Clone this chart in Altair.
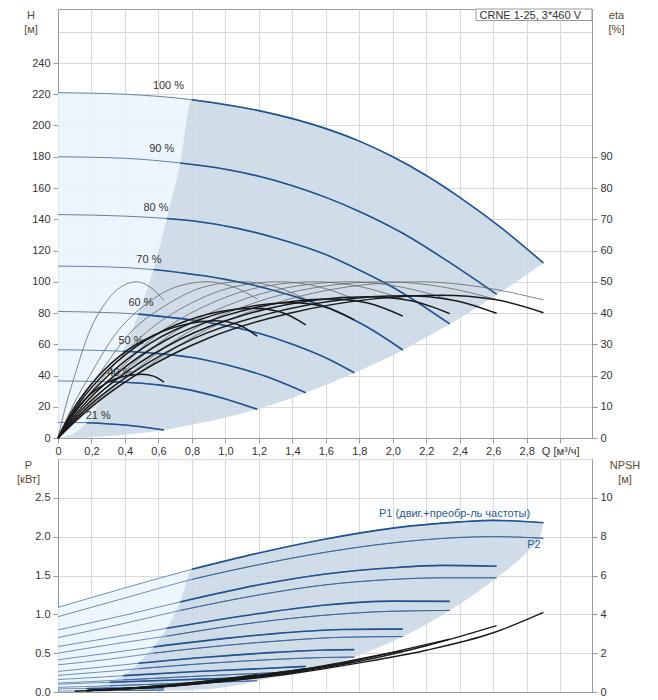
import altair as alt
import pandas as pd

# ---------------- data ----------------
SPEEDS = ["100 %", "90 %", "80 %", "70 %", "60 %", "50 %", "40 %", "21 %"]
# flow where each curve enters the recommended (dark) range
SPLIT_Q = [0.8, 0.73, 0.65, 0.57, 0.48, 0.39, 0.31, 0.17]

H_Q = [
    [0, 0.4, 0.8, 1.2, 1.6, 1.8, 2.0, 2.2, 2.4, 2.66, 2.9],
    [0, 0.4, 0.73, 1.0, 1.2, 1.4, 1.6, 1.8, 2.06, 2.33, 2.62],
    [0, 0.4, 0.65, 0.8, 1.08, 1.3, 1.62, 1.8, 2.0, 2.34],
    [0, 0.3, 0.57, 1.0, 1.2, 1.4, 1.62, 1.84, 2.06],
    [0, 0.48, 0.8, 1.0, 1.2, 1.4, 1.62, 1.77],
    [0, 0.39, 0.6, 0.8, 1.0, 1.24, 1.48],
    [0, 0.31, 0.6, 0.8, 1.0, 1.19],
    [0, 0.17, 0.4, 0.633],
]
H_V = [
    [221, 220, 216.5, 209.5, 198, 190, 180, 168, 154, 133.5, 112],
    [180, 179, 176, 172, 167.5, 161.5, 154, 145, 131, 113, 92],
    [143, 142, 140.5, 139, 134, 128, 116.5, 107.5, 96.5, 73],
    [110, 109.5, 107.8, 101.5, 97, 91, 83, 71.5, 56.3],
    [81, 79.3, 75.5, 72, 67, 60, 50.3, 41.8],
    [56.5, 55.5, 54, 51.5, 47, 39.5, 29],
    [36.5, 36, 34, 30.5, 25, 18.4],
    [10, 9.8, 8.3, 5.1],
]
LBL_Q = [0.66, 0.62, 0.585, 0.543, 0.496, 0.436, 0.37, 0.24]
LBL_H = [225, 185, 147, 114, 86.5, 61.8, 41.6, 14.1]

# pump efficiency (thin grey)
ETA_P_Q = [
    [0, 0.23, 0.46, 0.83, 1.29, 1.75, 2.16, 2.53, 2.90],
    [0, 0.21, 0.42, 0.75, 1.16, 1.58, 1.95, 2.29, 2.62],
    [0, 0.19, 0.37, 0.67, 1.04, 1.41, 1.75, 2.04, 2.34],
    [0, 0.16, 0.33, 0.59, 0.91, 1.24, 1.54, 1.80, 2.06],
    [0, 0.14, 0.28, 0.51, 0.79, 1.07, 1.32, 1.55, 1.77],
    [0, 0.12, 0.24, 0.42, 0.66, 0.89, 1.10, 1.29, 1.48],
    [0, 0.095, 0.19, 0.34, 0.53, 0.72, 0.89, 1.04, 1.19],
    [0, 0.05, 0.10, 0.18, 0.28, 0.38, 0.47, 0.55, 0.633],
]
ETA_P_V = [
    [0, 11, 20, 33, 43, 48.5, 50, 48.3, 44.2],
    [0, 11, 20, 33, 43, 48.5, 50, 48.4, 44.3],
    [0, 11, 20, 33, 43, 48.5, 50, 48.4, 44.3],
    [0, 11, 20, 33, 43, 48.6, 50, 48.5, 44.5],
    [0, 11, 20, 33, 43, 48.6, 50, 48.5, 44.5],
    [0, 11, 20, 33, 43, 48.6, 50, 48.5, 44.5],
    [0, 11, 20, 33, 43, 48.6, 50, 48.5, 44.5],
    [0, 11, 20, 33, 43, 48.5, 50, 48.3, 44.0],
]
# total efficiency (thick black)
ETA_T_Q = [
    [0, 0.20, 0.49, 0.90, 1.39, 1.90, 2.29, 2.61, 2.90],
    [0, 0.18, 0.45, 0.81, 1.26, 1.72, 2.07, 2.36, 2.62],
    [0, 0.16, 0.40, 0.73, 1.12, 1.53, 1.85, 2.11, 2.34],
    [0, 0.14, 0.35, 0.64, 0.99, 1.35, 1.63, 1.85, 2.06],
    [0, 0.12, 0.30, 0.55, 0.85, 1.16, 1.40, 1.59, 1.77],
    [0, 0.10, 0.25, 0.46, 0.71, 0.97, 1.17, 1.33, 1.48],
    [0, 0.08, 0.20, 0.37, 0.57, 0.78, 0.94, 1.07, 1.19],
    [0, 0.044, 0.11, 0.20, 0.30, 0.41, 0.50, 0.57, 0.633],
]
ETA_T_V = [
    [0, 10, 21, 32, 40, 44.6, 45.7, 44.3, 40.1],
    [0, 10, 21, 31.8, 39.8, 44.4, 45.5, 44.1, 39.9],
    [0, 10, 20.8, 31.6, 39.5, 44.1, 45.2, 43.9, 39.8],
    [0, 9.8, 20.5, 31.2, 39, 43.4, 44.5, 43.2, 39.0],
    [0, 9.5, 20, 30.3, 37.9, 42.2, 43.3, 42, 37.8],
    [0, 9.1, 19.1, 29, 36.3, 40.5, 41.5, 40.3, 36.2],
    [0, 8.3, 17.3, 26.3, 32.8, 36.6, 37.5, 36.4, 32.6],
    [0, 4.5, 9.4, 14.3, 17.9, 19.9, 20.4, 19.8, 17.9],
]

# shaded ranges, H chart
DARK_Q = [0, 0.1, 0.17, 0.31, 0.39, 0.48, 0.57, 0.65, 0.73, 0.8, 1.2, 1.6, 1.8, 2.0, 2.2, 2.4, 2.66, 2.9]
DARK_TOP = [0, 3.4, 9.8, 36, 55.5, 79.3, 107.8, 140.5, 176, 216.5, 209.5, 198, 190, 180, 168, 154, 133.5, 112]
DARK_BOT = [0, 0.1, 0.4, 1.3, 2.0, 3.0, 4.2, 5.5, 7.1, 8.5, 18.8, 34, 43, 53, 64.5, 76.6, 94.5, 112]
LIGHT_Q = [0, 0.1, 0.17, 0.31, 0.39, 0.48, 0.57, 0.65, 0.73, 0.8]
LIGHT_TOP = [221, 221, 221, 220.5, 220, 219.5, 218.7, 218, 217.2, 216.5]
LIGHT_BOT = [0, 3.4, 9.8, 36, 55.5, 79.3, 107.8, 140.5, 176, 216.5]

# power curves
P1_Q = [
    [0, 0.4, 0.8, 1.2, 1.6, 2.0, 2.4, 2.6, 2.9],
    [0, 0.4, 0.73, 1.2, 1.6, 2.0, 2.3, 2.62],
    [0, 0.4, 0.65, 1.2, 1.6, 2.0, 2.34],
    [0, 0.3, 0.57, 1.0, 1.4, 1.7, 2.06],
    [0, 0.3, 0.48, 0.9, 1.3, 1.6, 1.77],
    [0, 0.2, 0.39, 0.8, 1.2, 1.48],
    [0, 0.31, 0.7, 1.0, 1.19],
    [0, 0.17, 0.4, 0.633],
]
P1_V = [
    [1.09, 1.34, 1.58, 1.79, 1.97, 2.11, 2.19, 2.21, 2.18],
    [0.80, 0.99, 1.16, 1.38, 1.52, 1.60, 1.63, 1.62],
    [0.586, 0.73, 0.82, 1.01, 1.12, 1.17, 1.167],
    [0.415, 0.50, 0.58, 0.69, 0.77, 0.805, 0.81],
    [0.265, 0.33, 0.37, 0.45, 0.51, 0.54, 0.545],
    [0.16, 0.185, 0.21, 0.26, 0.30, 0.33],
    [0.10, 0.125, 0.155, 0.175, 0.19],
    [0.04, 0.045, 0.05, 0.055],
]
P2_Q = P1_Q
P2_V = [
    [0.97, 1.21, 1.45, 1.64, 1.80, 1.92, 1.99, 2.0, 1.98],
    [0.70, 0.885, 1.05, 1.25, 1.38, 1.45, 1.47, 1.47],
    [0.50, 0.64, 0.72, 0.90, 0.99, 1.04, 1.05],
    [0.35, 0.42, 0.50, 0.60, 0.67, 0.705, 0.714],
    [0.214, 0.265, 0.30, 0.37, 0.42, 0.445, 0.45],
    [0.115, 0.135, 0.155, 0.20, 0.24, 0.265],
    [0.06, 0.08, 0.11, 0.13, 0.145],
    [0.012, 0.015, 0.02, 0.025],
]
NPSH_Q = [
    [0.17, 0.6, 1.0, 1.4, 1.8, 2.2, 2.6, 2.9],
    [0.17, 0.6, 1.0, 1.4, 1.8, 2.2, 2.62],
    [0.17, 0.6, 1.0, 1.4, 1.8, 2.1, 2.34],
    [0.17, 0.6, 1.0, 1.4, 1.8, 2.06],
    [0.17, 0.6, 1.0, 1.4, 1.77],
    [0.17, 0.6, 1.0, 1.48],
    [0.17, 0.6, 1.0, 1.19],
    [0.1, 0.4, 0.633],
]
NPSH_V = [
    [0.07, 0.25, 0.55, 0.95, 1.5, 2.15, 3.05, 4.1],
    [0.07, 0.26, 0.57, 1.0, 1.58, 2.38, 3.42],
    [0.07, 0.27, 0.59, 1.04, 1.65, 2.25, 2.72],
    [0.07, 0.28, 0.61, 1.07, 1.7, 2.14],
    [0.07, 0.29, 0.63, 1.1, 1.54],
    [0.07, 0.3, 0.66, 1.2],
    [0.07, 0.31, 0.68, 0.9],
    [0.04, 0.18, 0.35],
]
PD_Q = [0.17, 0.31, 0.39, 0.48, 0.57, 0.65, 0.73, 0.8, 1.0, 1.2, 1.48, 1.77, 2.06, 2.34, 2.62, 2.8, 2.88, 2.9]
PD_TOP = [0.045, 0.125, 0.21, 0.37, 0.58, 0.82, 1.16, 1.58, 1.69, 1.79, 1.915, 2.03, 2.125, 2.18, 2.21, 2.20, 2.185, 2.18]
PD_BOT = [0.012, 0.014, 0.016, 0.018, 0.02, 0.022, 0.024, 0.027, 0.06, 0.15, 0.265, 0.45, 0.714, 1.05, 1.47, 1.80, 2.0, 2.18]
PL_Q = [0, 0.17, 0.31, 0.39, 0.48, 0.57, 0.65, 0.73, 0.8]
PL_TOP = [1.09, 1.195, 1.28, 1.33, 1.385, 1.44, 1.49, 1.535, 1.58]
PL_BOT = [0.04, 0.045, 0.125, 0.21, 0.37, 0.58, 0.82, 1.16, 1.58]

P_LABELS = ["P1 (двиг.+преобр-ль частоты)", "P2"]
P_LBL_Q = [2.369, 2.843]
P_LBL_V = [2.288, 1.889]
BOX_TEXT = "CRNE 1-25, 3*460 V"

X_TICKS = [0, 0.2, 0.4, 0.6, 0.8, 1.0, 1.2, 1.4, 1.6, 1.8, 2.0, 2.2, 2.4, 2.6, 2.8, 3.0]
H_TICKS = [0, 20, 40, 60, 80, 100, 120, 140, 160, 180, 200, 220, 240, 260]
ETA_TICKS = [0, 10, 20, 30, 40, 50, 60, 70, 80, 90]
P_TICKS = [0, 0.5, 1.0, 1.5, 2.0, 2.5, 3.0]
N_TICKS = [0, 2, 4, 6, 8, 10]

# ---------------- helpers ----------------
def long_df(names, qs, vs, splits=None):
    rows = []
    for i, (n, q, v) in enumerate(zip(names, qs, vs)):
        for qq, vv in zip(q, v):
            if splits is not None and qq < splits[i] - 1e-9:
                continue
            rows.append({"curve": n, "Q": qq, "v": vv})
    return pd.DataFrame(rows)

BLUE = "#1f5491"
THIN_BLUE = "#5e82ad"
LIGHT = "#ebf4fd"
DARK = "#c8d6e4"
AREA_OP = 0.85
GRID = "#d9d9d9"
TXT = "#333333"
TITLE_C = "#5a4a32"

XS = alt.Scale(domain=[0, 3.19], nice=False, zero=False)
HS = alt.Scale(domain=[0, 274.56], nice=False, zero=False)
ES = alt.Scale(domain=[0, 137.28], nice=False, zero=False)
PS = alt.Scale(domain=[0, 3.0], nice=False, zero=False)
NS = alt.Scale(domain=[0, 12], nice=False, zero=False)

AX_X_TOP = alt.Axis(
    values=X_TICKS, title=None, grid=True, labelFlush=False, labelOverlap=False,
    labelPadding=2,
    labelExpr="datum.value > 2.95 ? 'Q [м³/ч]' : (datum.value == 0 ? '0' : replace(format(datum.value, '.1f'), '.', ','))",
)
AX_X_BOT = alt.Axis(values=X_TICKS, title=None, grid=True, labels=False, ticks=False)

AX_H = alt.Axis(
    values=H_TICKS, grid=True, labelPadding=3,
    labelExpr="datum.value > 245 ? '' : datum.label",
    tickOpacity={"condition": {"test": "datum.value > 245", "value": 0}, "value": 1},
    title=["H", "[м]"], titleAngle=0, titleAlign="center", titleBaseline="top",
    titleX=-27.5, titleY=0, titleLineHeight=14,
)
AX_ETA = alt.Axis(
    orient="right", values=ETA_TICKS, grid=False, labelPadding=3,
    title=["eta", "[%]"], titleAngle=0, titleAlign="center", titleBaseline="top",
    titleX=24, titleY=0, titleLineHeight=14,
)
AX_P = alt.Axis(
    values=P_TICKS, grid=True, labelPadding=3,
    labelExpr="datum.value > 2.6 ? '' : format(datum.value, '.1f')",
    tickOpacity={"condition": {"test": "datum.value > 2.6", "value": 0}, "value": 1},
    title=["P", "[кВт]"], titleAngle=0, titleAlign="center", titleBaseline="top",
    titleX=-30, titleY=0, titleLineHeight=14,
)
AX_N = alt.Axis(
    orient="right", values=N_TICKS, grid=False, labelPadding=3,
    title=["NPSH", "[м]"], titleAngle=0, titleAlign="center", titleBaseline="top",
    titleX=32.5, titleY=0, titleLineHeight=14,
)

def X(axis):
    return alt.X("Q:Q", scale=XS, axis=axis)

# ---------------- top chart: H and eta ----------------
light_df = pd.DataFrame({"Q": LIGHT_Q, "top": LIGHT_TOP, "bot": LIGHT_BOT})
dark_df = pd.DataFrame({"Q": DARK_Q, "top": DARK_TOP, "bot": DARK_BOT})

light_area = alt.Chart(light_df).mark_area(color=LIGHT, opacity=AREA_OP, interpolate="monotone").encode(
    x=X(AX_X_TOP), y=alt.Y("top:Q", scale=HS, axis=AX_H), y2="bot:Q")
dark_area = alt.Chart(dark_df).mark_area(color=DARK, opacity=AREA_OP, interpolate="monotone").encode(
    x=X(AX_X_TOP), y=alt.Y("top:Q", scale=HS, axis=AX_H), y2="bot:Q")

h_all = long_df(SPEEDS, H_Q, H_V)
h_in = long_df(SPEEDS, H_Q, H_V, SPLIT_Q)
h_thin = alt.Chart(h_all).mark_line(color=THIN_BLUE, strokeWidth=1, interpolate="monotone").encode(
    x=X(AX_X_TOP), y=alt.Y("v:Q", scale=HS, axis=AX_H), detail="curve:N")
h_thick = alt.Chart(h_in).mark_line(color=BLUE, strokeWidth=1.6, interpolate="monotone").encode(
    x=X(AX_X_TOP), y=alt.Y("v:Q", scale=HS, axis=AX_H), detail="curve:N")

lbl_df = pd.DataFrame({"Q": LBL_Q, "v": LBL_H, "t": SPEEDS})
h_lbl = alt.Chart(lbl_df).mark_text(fontSize=11, color=TXT, baseline="middle", align="center").encode(
    x=X(AX_X_TOP), y=alt.Y("v:Q", scale=HS, axis=AX_H), text="t:N")

box_df = pd.DataFrame({"t": [BOX_TEXT]})
box = alt.Chart(box_df).mark_rect(fill="white", stroke="#999999", strokeWidth=1).encode(
    x=alt.value(418), x2=alt.value(534), y=alt.value(0), y2=alt.value(11.5))
box_t = alt.Chart(box_df).mark_text(fontSize=11, color=TXT, align="left", baseline="alphabetic").encode(
    x=alt.value(421.5), y=alt.value(9.5), text="t:N")

eta_p = alt.Chart(long_df(SPEEDS, ETA_P_Q, ETA_P_V)).mark_line(
    color="#666666", strokeWidth=0.8, interpolate="monotone").encode(
    x=X(AX_X_TOP), y=alt.Y("v:Q", scale=ES, axis=AX_ETA), detail="curve:N")
eta_t = alt.Chart(long_df(SPEEDS, ETA_T_Q, ETA_T_V)).mark_line(
    color="#1a1a1a", strokeWidth=1.5, interpolate="monotone").encode(
    x=X(AX_X_TOP), y=alt.Y("v:Q", scale=ES, axis=AX_ETA), detail="curve:N")

top = alt.layer(
    alt.layer(light_area, dark_area, h_thin, h_thick, h_lbl),
    alt.layer(eta_p, eta_t, box, box_t),
).resolve_scale(y="independent").properties(width=534, height=429)

# ---------------- bottom chart: P and NPSH ----------------
pl_df = pd.DataFrame({"Q": PL_Q, "top": PL_TOP, "bot": PL_BOT})
pd_df = pd.DataFrame({"Q": PD_Q, "top": PD_TOP, "bot": PD_BOT})
p_light = alt.Chart(pl_df).mark_area(color=LIGHT, opacity=AREA_OP, interpolate="monotone").encode(
    x=X(AX_X_BOT), y=alt.Y("top:Q", scale=PS, axis=AX_P), y2="bot:Q")
p_dark = alt.Chart(pd_df).mark_area(color=DARK, opacity=AREA_OP, interpolate="monotone").encode(
    x=X(AX_X_BOT), y=alt.Y("top:Q", scale=PS, axis=AX_P), y2="bot:Q")

def pline(df, color, width):
    return alt.Chart(df).mark_line(color=color, strokeWidth=width, interpolate="monotone").encode(
        x=X(AX_X_BOT), y=alt.Y("v:Q", scale=PS, axis=AX_P), detail="curve:N")

p2_thin = pline(long_df(SPEEDS, P2_Q, P2_V), THIN_BLUE, 0.9)
p2_in = pline(long_df(SPEEDS, P2_Q, P2_V, SPLIT_Q), "#3b6898", 1.0)
p1_thin = pline(long_df(SPEEDS, P1_Q, P1_V), THIN_BLUE, 0.9)
p1_in = pline(long_df(SPEEDS, P1_Q, P1_V, SPLIT_Q), BLUE, 1.6)

plbl_df = pd.DataFrame({"Q": P_LBL_Q, "v": P_LBL_V, "t": P_LABELS})
p_lbl = alt.Chart(plbl_df).mark_text(fontSize=11, color="#2b5a93", baseline="middle", align="center").encode(
    x=X(AX_X_BOT), y=alt.Y("v:Q", scale=PS, axis=AX_P), text="t:N")

npsh = alt.Chart(long_df(SPEEDS, NPSH_Q, NPSH_V)).mark_line(
    color="#1a1a1a", strokeWidth=1.4, interpolate="monotone").encode(
    x=X(AX_X_BOT), y=alt.Y("v:Q", scale=NS, axis=AX_N), detail="curve:N")

bottom = alt.layer(
    alt.layer(p_light, p_dark, p2_thin, p2_in, p1_thin, p1_in, p_lbl),
    alt.layer(npsh),
).resolve_scale(y="independent").properties(width=534, height=233)

chart = alt.vconcat(top, bottom, spacing=21, bounds="flush").properties(
    padding={"left": 8, "top": 0, "right": 4, "bottom": 0}
).configure(font="Liberation Sans").configure_view(
    stroke="#999999", strokeWidth=1
).configure_axis(
    labelFont="Liberation Sans", titleFont="Liberation Sans",
    labelFontSize=11, titleFontSize=11, titleFontWeight="normal",
    labelColor=TXT, titleColor=TITLE_C,
    domainColor="#999999", tickColor="#999999", gridColor=GRID, tickSize=5,
)

chart.save("out.html", embed_options={"renderer": "svg", "actions": False})
